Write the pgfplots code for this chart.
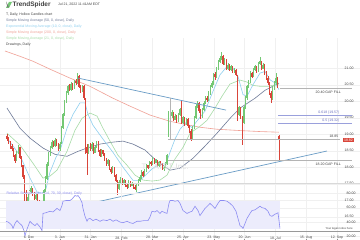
\documentclass[border=0pt]{standalone}
\usepackage{pgfplots}
\pgfplotsset{compat=1.18}
\usepackage{pgfplotstable}
\usepackage{fontspec}
\setmainfont{Liberation Sans}
\definecolor{upc}{HTML}{74C874}
\definecolor{dnc}{HTML}{D9453A}
\definecolor{ema}{HTML}{8ECFEF}
\definecolor{smaA}{HTML}{A6DBA6}
\definecolor{smaB}{HTML}{6E7A98}
\definecolor{smaC}{HTML}{F0A196}
\definecolor{tl}{HTML}{6A9CC6}
\definecolor{gl}{HTML}{B4B4B4}
\definecolor{fib}{HTML}{9AA0DC}
\definecolor{fibt}{HTML}{6A70C0}
\definecolor{rsi}{HTML}{8C8CF2}
\definecolor{band}{HTML}{ECECFC}
\definecolor{txt}{HTML}{444444}
\newcommand\fs{\fontsize{3.5bp}{4bp}\selectfont}
\pgfplotstableread{
x o h l c
7.0   18.95 19.00 18.80 18.85
8.6   18.85 18.90 18.70 18.75
10.2  18.75 18.80 18.55 18.60
11.8  18.62 18.70 18.48 18.55
13.4  18.55 18.58 18.30 18.35
15.0  18.35 18.40 18.12 18.20
16.6  18.22 18.50 18.18 18.45
18.2  18.45 18.68 18.40 18.60
19.8  18.60 18.62 18.25 18.30
21.4  18.30 18.35 18.00 18.05
23.0  18.05 18.08 17.65 17.70
24.6  17.70 17.75 16.75 17.20
26.2  17.20 17.30 16.90 17.00
27.8  17.00 17.18 16.95 17.10
29.4  17.10 17.30 17.05 17.25
31.0  17.25 17.42 17.20 17.35
32.6  17.35 17.38 17.12 17.20
34.2  17.20 17.25 17.00 17.05
35.8  17.05 17.22 17.00 17.15
37.4  17.15 17.18 16.90 16.95
39.0  16.95 17.00 16.78 16.85
40.6  16.85 16.90 16.58 16.70
42.2  16.70 16.85 16.62 16.75
43.8  16.80 17.35 16.78 17.30
45.4  17.30 17.72 17.25 17.65
47.0  17.65 18.15 17.60 18.10
48.6  18.10 18.45 18.05 18.40
50.2  18.40 18.65 18.35 18.60
51.8  18.60 18.82 18.55 18.75
53.4  18.75 18.80 18.60 18.65
55.0  18.65 18.88 18.62 18.80
56.6  18.80 18.85 18.65 18.70
58.2  18.70 18.72 18.50 18.55
59.8  18.55 18.75 18.50 18.70
61.4  18.75 19.25 18.70 19.20
63.0  19.20 19.65 19.15 19.60
64.6  19.60 20.05 19.55 20.00
66.2  20.00 20.30 19.95 20.25
67.8  20.25 20.50 20.20 20.45
69.4  20.45 20.52 20.30 20.35
71.0  20.35 20.58 20.32 20.50
72.6  20.50 20.55 20.35 20.40
74.2  20.40 20.65 20.38 20.60
75.8  20.60 20.68 20.50 20.55
77.4  20.55 20.85 20.52 20.75
79.0  20.75 20.78 20.40 20.45
80.6  20.45 20.50 20.25 20.30
82.2  20.30 20.50 20.28 20.45
83.8  20.45 20.48 20.05 20.10
85.4  20.05 20.10 18.40 18.60
87.0  18.60 18.70 17.75 18.45
88.6  18.45 18.70 18.40 18.65
90.2  18.65 18.72 18.50 18.55
91.8  18.55 18.75 18.50 18.70
93.4  18.70 18.72 18.40 18.45
95.0  18.45 18.65 18.42 18.60
96.6  18.60 18.80 18.58 18.75
98.2  18.75 18.78 18.45 18.50
99.8  18.50 18.55 18.30 18.35
101.4 18.35 18.55 18.32 18.50
103.0 18.50 18.52 18.35 18.40
104.6 18.40 18.42 18.20 18.25
106.2 18.25 18.28 18.05 18.10
107.8 18.10 18.25 18.05 18.20
109.4 18.20 18.22 17.90 17.95
111.0 17.95 18.00 17.80 17.85
112.6 17.85 18.05 17.82 18.00
114.2 18.00 18.02 17.70 17.75
115.8 17.75 17.80 17.55 17.60
117.4 17.60 17.62 17.15 17.35
119.0 17.35 17.60 17.30 17.55
120.6 17.55 17.70 17.50 17.65
122.2 17.65 17.68 17.45 17.50
123.8 17.50 17.65 17.45 17.60
125.4 17.60 17.62 17.40 17.45
127.0 17.45 17.50 17.35 17.40
128.6 17.40 17.60 17.38 17.55
130.2 17.55 17.58 17.40 17.45
131.8 17.45 17.55 17.42 17.50
133.4 17.50 17.52 17.35 17.40
135.0 17.40 17.45 17.30 17.35
136.6 17.35 17.50 17.25 17.45
138.2 17.45 17.65 17.42 17.60
139.8 17.60 17.75 17.55 17.70
141.4 17.70 17.90 17.65 17.85
143.0 17.85 17.88 17.70 17.75
144.6 17.75 17.95 17.72 17.90
146.2 17.90 18.10 17.85 18.05
147.8 18.05 18.08 17.95 18.00
149.4 18.00 18.20 17.98 18.15
151.0 18.15 18.18 18.05 18.10
152.6 18.10 18.30 18.08 18.25
154.2 18.25 18.28 18.10 18.15
155.8 18.15 18.25 18.12 18.20
157.4 18.20 18.22 18.00 18.05
159.0 18.05 18.20 18.02 18.15
160.6 18.15 18.18 18.05 18.10
162.2 18.10 18.12 17.92 17.95
163.8 17.95 18.05 17.88 18.00
165.4 18.00 18.15 17.98 18.10
167.0 18.10 18.40 18.08 18.35
168.6 18.95 19.70 18.90 19.60
170.2 19.60 19.68 19.45 19.55
171.8 19.55 19.72 19.50 19.65
173.4 19.65 19.68 19.40 19.45
175.0 19.45 19.60 19.42 19.55
176.6 19.55 19.58 19.35 19.40
178.2 19.40 19.65 19.38 19.60
179.8 19.60 19.80 19.55 19.75
181.4 20.00 20.05 19.30 19.35
183.0 19.35 19.55 19.30 19.50
184.6 19.50 19.52 19.25 19.30
186.2 19.30 19.50 19.28 19.45
187.8 19.45 19.48 19.20 19.25
189.4 19.25 19.28 19.05 19.10
191.0 19.10 19.15 18.78 18.85
192.6 18.85 19.25 18.82 19.20
194.2 19.20 19.55 19.15 19.50
195.8 19.50 19.90 19.45 19.85
197.4 19.85 20.02 19.80 19.95
199.0 19.95 19.98 19.65 19.70
200.6 19.70 19.75 19.45 19.55
202.2 19.55 19.80 19.50 19.75
203.8 19.75 20.00 19.70 19.95
205.4 19.95 20.15 19.90 20.10
207.0 20.10 20.15 19.98 20.05
208.6 20.05 20.30 20.00 20.25
210.2 20.25 20.50 20.20 20.45
211.8 20.45 20.62 20.40 20.55
213.4 20.55 20.85 20.50 20.80
215.0 20.80 20.88 20.65 20.75
216.6 20.75 21.05 20.70 21.00
218.2 21.00 21.25 20.95 21.20
219.8 21.20 21.38 21.15 21.30
221.4 21.30 21.48 21.25 21.35
223.0 21.35 21.40 21.10 21.15
224.6 21.15 21.30 21.10 21.25
226.2 21.25 21.28 20.95 21.00
227.8 21.00 21.15 20.95 21.10
229.4 21.10 21.12 20.90 20.95
231.0 20.95 21.10 20.92 21.05
232.6 21.05 21.08 20.85 20.90
234.2 20.90 21.00 20.85 20.95
235.8 20.95 20.98 20.75 20.80
237.4 20.75 20.78 19.40 19.60
239.0 19.60 19.85 19.55 19.80
240.6 19.80 19.82 19.45 19.50
242.2 19.50 19.55 18.67 19.35
243.8 19.35 19.85 19.30 19.80
245.4 19.80 20.15 19.75 20.10
247.0 20.10 20.50 20.05 20.45
248.6 20.45 20.65 20.40 20.60
250.2 20.60 20.90 20.55 20.85
251.8 20.85 20.88 20.70 20.75
253.4 20.75 21.00 20.72 20.95
255.0 20.95 21.10 20.90 21.05
256.6 21.05 21.08 20.85 20.90
258.2 20.90 21.20 20.88 21.15
259.8 21.15 21.35 21.10 21.20
261.4 21.20 21.22 20.95 21.00
263.0 21.00 21.15 20.98 21.10
264.6 21.10 21.12 20.80 20.85
266.2 20.85 20.90 20.65 20.70
267.8 20.70 20.75 20.50 20.55
269.4 20.55 20.58 20.20 20.25
271.0 20.25 20.30 19.95 20.10
272.6 20.10 20.45 20.05 20.40
274.2 20.40 20.60 20.35 20.55
275.8 20.55 20.85 20.50 20.70
277.4 20.70 20.72 20.40 20.45
279.0 18.95 18.98 18.22 18.82
}\candles
\pgfplotsset{
  candle/.style n args={2}{draw=none, mark=none, forget plot,
    error bars/.cd, y dir=both, y explicit, error mark=none,
    error bar style={draw=#1, solid, line width=#2}, /pgfplots/.cd},
}
\begin{document}
\begin{tikzpicture}[x=1bp,y=1bp]
\useasboundingbox (0,0) rectangle (360,240);
\fill[white] (0,0) rectangle (360,240);
\begin{axis}[at={(0,57)}, anchor=south west, scale only axis, width=360bp, height=183bp,
  xmin=0, xmax=360, ymin=16.364, ymax=21.909, clip=false,
  axis line style={draw=none}, tick style={draw=none},
  xtick={29,59.8,90.6,121.4,152.2,183,213.8,244.6,275.4,306.2,337}, xticklabels={},
  ytick={16.5,17,17.5,18,18.5,19,19.5,20,20.5,21},
  yticklabel pos=right,
  /pgf/number format/assume math mode=true,
  yticklabel={\pgfmathprintnumber[fixed,fixed zerofill,precision=2]{\tick}},
  yticklabel style={anchor=east, xshift=-3bp, font=\fs, text=txt},
  grid=major, major grid style={draw=black!6, line width=0.3bp},
]
\addplot[smaC, line width=0.6bp] coordinates {(5,21.52) (20,21.36) (33,21.21) (50,20.97) (70,20.70) (90,20.45) (113,20.09) (130,19.85) (150,19.58) (170,19.39) (185,19.30) (200,19.21) (217,19.15) (240,19.11) (260,19.08) (279,19.06)};
\addplot[smaB, line width=0.6bp] coordinates {(7,19.79) (20,19.18) (30,18.88) (43,18.58) (55,18.39) (67,18.33) (78,18.48) (87,18.58) (100,18.70) (113,18.76) (123,18.79) (133,18.70) (145,18.52) (157,18.18) (170,17.91) (180,17.97) (193,18.27) (205,18.64) (217,19.03) (230,19.48) (240,19.79) (255,20.09) (265,20.33) (279,20.55)};
\addplot[smaA, line width=0.6bp] coordinates {(7,19.03) (20,18.67) (33,18.12) (43,17.67) (50,17.73) (57,17.91) (67,18.48) (75,19.12) (82,19.48) (90,19.64) (97,19.55) (103,19.18) (110,18.79) (118,18.36) (127,18.06) (135,17.76) (143,17.61) (152,17.58) (160,17.61) (167,17.76) (175,18.25) (183,18.60) (190,19.03) (200,19.24) (207,19.42) (215,19.79) (222,20.15) (230,20.52) (240,20.64) (247,20.58) (253,20.48) (260,20.45) (268,20.45) (279,20.52)};
\addplot[ema, line width=0.6bp] coordinates {(7,18.88) (20,18.36) (30,17.67) (37,17.25) (42,17.2) (46,17.35) (50,17.85) (56,18.3) (60,18.5) (67,19.18) (73,19.6) (80,19.95) (85,19.95) (88,19.6) (93,19.27) (103,18.85) (113,18.45) (123,18.0) (133,17.6) (140,17.6) (147,17.8) (152,17.95) (160,18.1) (166,18.1) (170,18.45) (175,18.85) (180,19.15) (186,19.35) (192,19.2) (197,19.4) (205,19.7) (213,20.3) (220,20.8) (227,21.05) (233,21.0) (238,20.75) (243,20.2) (247,20.15) (253,20.5) (260,20.85) (265,20.9) (270,20.65) (275,20.55) (279,20.35)};
% wicks
\addplot[restrict expr to domain={\thisrow{c}-\thisrow{o}}{0:10}, candle={upc}{0.4bp}]
  table[x=x, y expr={(\thisrow{h}+\thisrow{l})/2}, y error expr={(\thisrow{h}-\thisrow{l})/2}] {\candles};
\addplot[restrict expr to domain={\thisrow{c}-\thisrow{o}}{-10:-0.001}, candle={dnc}{0.4bp}]
  table[x=x, y expr={(\thisrow{h}+\thisrow{l})/2}, y error expr={(\thisrow{h}-\thisrow{l})/2}] {\candles};
% bodies
\addplot[restrict expr to domain={\thisrow{c}-\thisrow{o}}{0:10}, candle={upc}{1.1bp}]
  table[x=x, y expr={(\thisrow{o}+\thisrow{c})/2}, y error expr={abs(\thisrow{c}-\thisrow{o})/2+0.01}] {\candles};
\addplot[restrict expr to domain={\thisrow{c}-\thisrow{o}}{-10:-0.001}, candle={dnc}{1.1bp}]
  table[x=x, y expr={(\thisrow{o}+\thisrow{c})/2}, y error expr={abs(\thisrow{c}-\thisrow{o})/2+0.01}] {\candles};
% drawings
\addplot[tl, line width=0.7bp] coordinates {(78,20.70) (226,19.73)};
\addplot[tl, line width=0.7bp] coordinates {(42,16.58) (327,18.49)};
\addplot[gl, line width=0.6bp] coordinates {(280,20.40) (352,20.40)};
\addplot[gl, line width=0.6bp] coordinates {(168,18.20) (352,18.20)};
\addplot[gl, line width=0.6bp] coordinates {(168,18.85) (340,18.85)};
\addplot[gl, line width=0.4bp] coordinates {(170,18.85) (170,20.09)};
\addplot[fib, line width=0.5bp] coordinates {(278,19.57) (352,19.57)};
\addplot[fib, line width=0.5bp] coordinates {(278,19.32) (352,19.32)};
\node[anchor=east, font=\fontsize{8bp}{9bp}\selectfont, text=black!12] at (axis cs:192,18.0) {T - AT\&T Inc.};
\node[anchor=west, font=\fs, text=txt, inner sep=0.5bp] at (axis cs:315,20.28) {20.40 GAP FILL};
\node[anchor=west, font=\fs, text=txt, inner sep=0.5bp] at (axis cs:315,18.09) {18.20 GAP FILL};
\node[anchor=east, font=\fs, text=fibt, inner sep=0.5bp] at (axis cs:340,19.65) {0.618 (19.57)};
\node[anchor=east, font=\fs, text=fibt, inner sep=0.5bp] at (axis cs:340,19.40) {0.5 (19.32)};
\node[anchor=east, font=\fs, text=txt, inner sep=0.5bp] at (axis cs:339,18.93) {18.85};
\node[fill=dnc, text=white, font=\fs, inner sep=0.8bp] at (axis cs:348.5,18.82) {18.82};
\end{axis}
\begin{axis}[at={(0,9)}, anchor=south west, scale only axis, width=360bp, height=48bp,
  xmin=0, xmax=360, ymin=15.8, ymax=82.8, clip=false,
  axis line style={draw=none},
  xtick={29,59.8,90.6,121.4,152.2,183,213.8,244.6,275.4,306.2,337},
  xticklabels={6. Dec,3. Jan,31. Jan,28. Feb,28. Mar,25. Apr,23. May,20. Jun,18. Jul,15. Aug,12. Sep},
  xtick pos=left, tick align=outside, major tick length=2bp,
  xtick style={draw=black!45, line width=0.3bp},
  xticklabel style={font=\fs, text=txt, anchor=north, inner sep=0pt, yshift=5bp},
  ytick={20,40,60,80}, ytick style={draw=none},
  yticklabel pos=right,
  /pgf/number format/assume math mode=true,
  yticklabel={\pgfmathprintnumber[fixed,fixed zerofill,precision=2]{\tick}},
  yticklabel style={anchor=east, xshift=-3bp, font=\fs, text=txt},
  grid=major, major grid style={draw=black!6, line width=0.3bp},
]
\addplot[fill=band, draw=none] coordinates {(6,30) (280,30) (280,70) (6,70)} --cycle;
\addplot[rsi, line width=0.6bp] coordinates {(6,41) (8,40) (10,38) (12,35) (13,31) (15,38) (17,42) (19,39) (22,35) (24,28) (25,21) (27,30) (30,41) (32,38) (35,35) (37,38) (40,33) (42,28) (43,52) (46,53) (50,55) (53,54) (57,59) (60,56) (62,63) (63,69) (66,70) (70,70) (72,72) (75,77) (77,76) (78,77) (80,73) (82,67) (83,59) (85,48) (87,41) (88,44) (90,45) (92,43) (93,42) (96,44) (100,41) (103,43) (107,42) (110,44) (113,41) (116,43) (120,40) (123,39) (127,41) (130,39) (133,38) (137,41) (140,41) (144,42) (148,42) (150,47) (152,55) (155,54) (157,56) (160,52) (162,55) (165,53) (167,52) (169,66) (170,70) (173,70) (175,69) (178,70) (180,66) (183,56) (187,52) (190,54) (192,55) (195,62) (198,56) (200,49) (203,55) (205,59) (208,63) (210,66) (213,62) (215,59) (218,66) (220,70) (224,70) (227,69) (230,66) (233,62) (236,55) (238,45) (240,35) (242,33) (243,31) (245,38) (247,45) (250,52) (252,56) (255,57) (257,59) (260,62) (262,60) (265,59) (268,55) (270,49) (272,48) (273,49) (275,51) (277,52) (278,53) (280,31)};
\node[anchor=west, font=\fs, text=rsi, inner sep=0.5bp] at (axis cs:6,79.5) {Relative Strength Index (14, 70, 30, close), Daily};
\end{axis}
\draw[black!15, line width=0.5bp] (0,57) -- (360,57);
\draw[black!40, line width=0.4bp] (0,9) -- (360,9);
\node[anchor=west, fill=white, font=\fontsize{2.8bp}{3bp}\selectfont, text=txt, inner sep=0.4bp] at (325,11.5) {Your legal notice here};
% header
\fill[upc] (6,232) -- (9,238) -- (12,238) -- (9,232) -- cycle;
\fill[black!55] (6,238.5) -- (9,232.5) -- (7.5,232.5) -- cycle;
\node[anchor=west, font=\fontsize{6.5bp}{7bp}\selectfont\bfseries, text=black!75, inner sep=0pt] at (12.5,235) {TrendSpider};
\node[anchor=west, font=\fs, text=txt, inner sep=0pt] at (58,235.3) {Jul 21, 2022 11:41AM EDT};
\node[anchor=west, font=\fs, text=txt, inner sep=0pt] at (6,225) {T, Daily, Hollow Candles chart};
\node[anchor=west, font=\fs, text=smaB, inner sep=0pt] at (6,219) {Simple Moving Average (50, 0, close), Daily};
\node[anchor=west, font=\fs, text=ema, inner sep=0pt] at (6,213) {Exponential Moving Average (10, 0, close), Daily};
\node[anchor=west, font=\fs, text=smaC, inner sep=0pt] at (6,207) {Simple Moving Average (200, 0, close), Daily};
\node[anchor=west, font=\fs, text=smaA, inner sep=0pt] at (6,201) {Simple Moving Average (21, 0, close), Daily};
\node[anchor=west, font=\fs, text=txt, inner sep=0pt] at (6,195) {Drawings, Daily};
\end{tikzpicture}
\end{document}
